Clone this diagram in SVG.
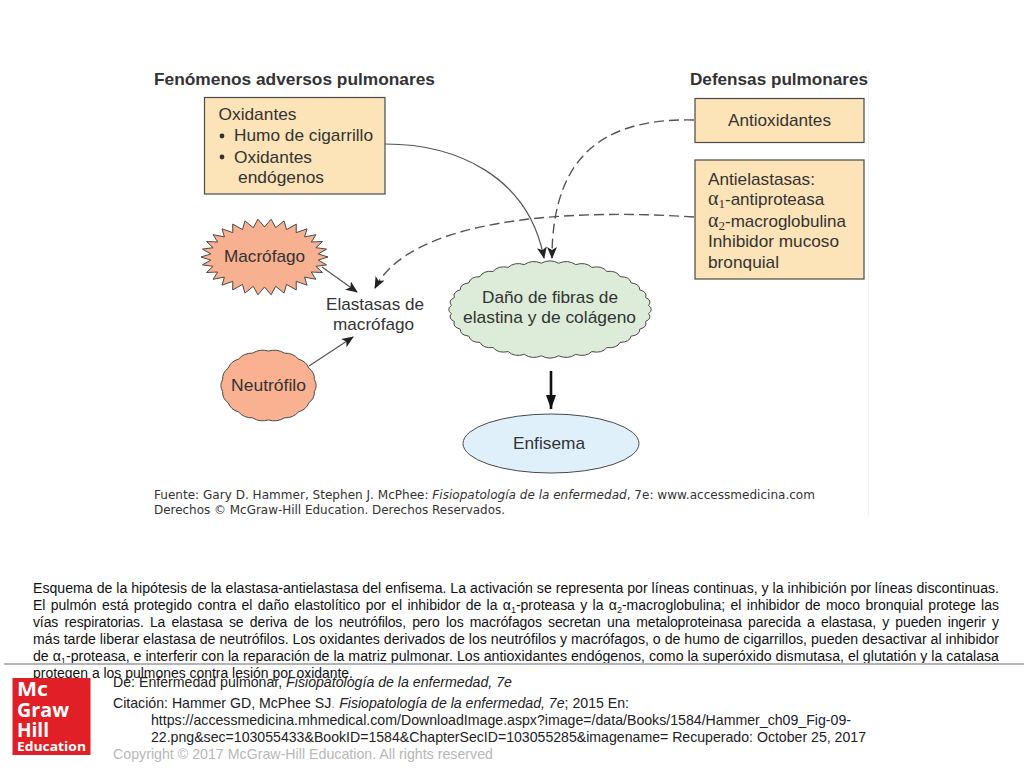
<svg xmlns="http://www.w3.org/2000/svg" width="1024" height="768" viewBox="0 0 1024 768">
<style>
text{font-family:"Liberation Sans",Arial,sans-serif}
.n{font-size:17px;fill:#333}
.h{font-size:17px;font-weight:700;fill:#333}
.g{font-family:"Liberation Serif","Times New Roman",serif;font-size:20px;fill:#333}
.sub{font-size:13px}
.ng{font-family:"Liberation Sans",sans-serif;font-size:17px}
.box{fill:#fde3b8;stroke:#4a4a4a;stroke-width:1.2}
.shape{stroke:#4a4a4a;stroke-width:1}
.c{fill:none;stroke:#555;stroke-width:1.2}
.d{fill:none;stroke:#555;stroke-width:1.4;stroke-dasharray:10 5}
.f{font-family:"DejaVu Sans",sans-serif;font-size:11.5px;fill:#333}
.p{font-size:14px;fill:#111}
.t{font-size:14.2px;fill:#222}
.s{font-size:9px}
.logo{font-family:"Open Sans",sans-serif;font-weight:700;fill:#fff}
</style>
<defs>
<marker id="ah" viewBox="0 0 12 10" refX="11" refY="5" markerWidth="12" markerHeight="10" markerUnits="userSpaceOnUse" orient="auto"><path d="M0,0L12,5L0,10L3,5Z" fill="#222"/></marker>
<marker id="big" viewBox="0 0 14 10" refX="14" refY="5" markerWidth="14" markerHeight="10" markerUnits="userSpaceOnUse" orient="auto"><path d="M0,0L14,5L0,10Z" fill="#111"/></marker>
</defs>
<rect width="1024" height="768" fill="#fff"/>
<line x1="868.5" y1="70" x2="868.5" y2="516" stroke="#f2f2f2"/>
<text class="h" x="154" y="85" textLength="281" lengthAdjust="spacingAndGlyphs">Fenómenos adversos pulmonares</text>
<text class="h" x="690" y="85" textLength="178" lengthAdjust="spacingAndGlyphs">Defensas pulmonares</text>
<g id="connectors">
<path class="c" d="M385,144C455,144 528,175 544,258" marker-end="url(#ah)"/>
<path class="d" d="M694,120C610,118 552,150 552,258" marker-end="url(#ah)"/>
<path class="d" d="M694,217C560,208 410,220 375,288" marker-end="url(#ah)"/>
<path class="c" d="M322,267L357,292" marker-end="url(#ah)"/>
<path class="c" d="M309,366L353,337" marker-end="url(#ah)"/>
<path fill="none" stroke="#111" stroke-width="2.6" d="M551,371L551,409" marker-end="url(#big)"/>
</g>
<g id="oxidantes">
<rect class="box" x="204.5" y="97.5" width="180.5" height="96.5"/>
<text class="n" x="218.5" y="120" textLength="78" lengthAdjust="spacingAndGlyphs">Oxidantes</text>
<circle cx="222" cy="136" r="2.4" fill="#333"/>
<text class="n" x="234" y="141" textLength="139" lengthAdjust="spacingAndGlyphs">Humo de cigarrillo</text>
<circle cx="222" cy="157" r="2.4" fill="#333"/>
<text class="n" x="234" y="163" textLength="78" lengthAdjust="spacingAndGlyphs">Oxidantes</text>
<text class="n" x="238" y="183" textLength="86" lengthAdjust="spacingAndGlyphs">endógenos</text>
</g>
<g id="antioxidantes">
<rect class="box" x="695" y="98.5" width="169" height="44"/>
<text class="n" x="728" y="125.5" textLength="103" lengthAdjust="spacingAndGlyphs">Antioxidantes</text>
</g>
<g id="antielastasas">
<rect class="box" x="695" y="160" width="169" height="119"/>
<text class="n" x="708" y="185" textLength="107" lengthAdjust="spacingAndGlyphs">Antielastasas:</text>
<text class="g" x="708" y="205">α<tspan class="sub" dy="3">1</tspan><tspan class="ng" dy="-3">-antiproteasa</tspan></text>
<text class="g" x="708" y="226.5">α<tspan class="sub" dy="3">2</tspan><tspan class="ng" dy="-3">-macroglobulina</tspan></text>
<text class="n" x="708" y="247" textLength="131" lengthAdjust="spacingAndGlyphs">Inhibidor mucoso</text>
<text class="n" x="708" y="267.5" textLength="71" lengthAdjust="spacingAndGlyphs">bronquial</text>
</g>
<g id="macrofago">
<polygon class="shape" fill="#f7b090" transform="translate(264.5,257)" points="63.5,0 53.7,3.1 62.1,7.9 51.4,9.3 58,15.5 46.8,15 51.4,22.3 40.1,20.1 42.5,28.2 31.7,24.3 31.8,32.9 22,27.4 19.6,36.1 11.2,29.3 6.6,37.8 0,30 -6.6,37.8 -11.2,29.3 -19.6,36.1 -22,27.4 -31.8,32.9 -31.7,24.3 -42.5,28.2 -40.1,20.1 -51.4,22.3 -46.8,15 -58,15.5 -51.4,9.3 -62.1,7.9 -53.7,3.1 -63.5,0 -53.7,-3.1 -62.1,-7.9 -51.4,-9.3 -58,-15.5 -46.8,-15 -51.4,-22.3 -40.1,-20.1 -42.5,-28.2 -31.7,-24.3 -31.8,-32.9 -22,-27.4 -19.6,-36.1 -11.2,-29.3 -6.6,-37.8 0,-30 6.6,-37.8 11.2,-29.3 19.6,-36.1 22,-27.4 31.8,-32.9 31.7,-24.3 42.5,-28.2 40.1,-20.1 51.4,-22.3 46.8,-15 58,-15.5 51.4,-9.3 62.1,-7.9 53.7,-3.1"/>
<text class="n" x="224" y="262" textLength="81" lengthAdjust="spacingAndGlyphs">Macrófago</text>
</g>
<g id="elastasas">
<text class="n" x="326" y="309.5" textLength="98" lengthAdjust="spacingAndGlyphs">Elastasas de</text>
<text class="n" x="333" y="330" textLength="81" lengthAdjust="spacingAndGlyphs">macrófago</text>
</g>
<g id="neutrofilo">
<path class="shape" fill="#f9b192" transform="translate(268.5,385.5)" d="M45.8,6Q46.5,12.8 40.3,17.3Q37.9,24.1 29.9,26.4Q24.8,32.5 15.9,32.4Q8.6,36.9 0,34.5Q-8.6,36.9 -15.9,32.4Q-24.8,32.5 -29.9,26.4Q-37.9,24.1 -40.3,17.3Q-46.5,12.8 -45.8,6Q-49.5,0 -45.8,-6Q-46.5,-12.8 -40.3,-17.3Q-37.9,-24.1 -29.9,-26.4Q-24.8,-32.5 -15.9,-32.4Q-8.6,-36.9 0,-34.5Q8.6,-36.9 15.9,-32.4Q24.8,-32.5 29.9,-26.4Q37.9,-24.1 40.3,-17.3Q46.5,-12.8 45.8,-6Q49.5,0 45.8,6Z"/>
<text class="n" x="231" y="391" textLength="75" lengthAdjust="spacingAndGlyphs">Neutrófilo</text>
</g>
<g id="dano">
<path class="shape" fill="#dcecd8" transform="translate(550,309.5)" d="M98.6,4.1Q102.4,8.9 95.6,12Q97.7,17.4 89.7,19.7Q90.1,25.5 81.1,26.7Q79.7,32.8 70,32.9Q66.9,39.1 56.8,38.1Q52,44.2 41.8,42.1Q35.6,47.9 25.6,44.9Q18.1,50.2 8.6,46.3Q0,51 -8.6,46.3Q-18.1,50.2 -25.6,44.9Q-35.6,47.9 -41.8,42.1Q-52,44.2 -56.8,38.1Q-66.9,39.1 -70,32.9Q-79.7,32.8 -81.1,26.7Q-90.1,25.5 -89.7,19.7Q-97.7,17.4 -95.6,12Q-102.4,8.9 -98.6,4.1Q-104,0 -98.6,-4.1Q-102.4,-8.9 -95.6,-12Q-97.7,-17.4 -89.7,-19.7Q-90.1,-25.5 -81.1,-26.7Q-79.7,-32.8 -70,-32.9Q-66.9,-39.1 -56.8,-38.1Q-52,-44.2 -41.8,-42.1Q-35.6,-47.9 -25.6,-44.9Q-18.1,-50.2 -8.6,-46.3Q0,-51 8.6,-46.3Q18.1,-50.2 25.6,-44.9Q35.6,-47.9 41.8,-42.1Q52,-44.2 56.8,-38.1Q66.9,-39.1 70,-32.9Q79.7,-32.8 81.1,-26.7Q90.1,-25.5 89.7,-19.7Q97.7,-17.4 95.6,-12Q102.4,-8.9 98.6,-4.1Q104,0 98.6,4.1Z"/>
<text class="n" x="482" y="303" textLength="136" lengthAdjust="spacingAndGlyphs">Daño de fibras de</text>
<text class="n" x="463" y="323" textLength="173" lengthAdjust="spacingAndGlyphs">elastina y de colágeno</text>
</g>
<g id="enfisema">
<ellipse class="shape" fill="#dff0fb" cx="551" cy="443.5" rx="88" ry="29.5"/>
<text class="n" x="513" y="449" textLength="72" lengthAdjust="spacingAndGlyphs">Enfisema</text>
</g>
<text class="f" x="154" y="499" textLength="661" lengthAdjust="spacingAndGlyphs">Fuente: Gary D. Hammer, Stephen J. McPhee: <tspan font-style="italic">Fisiopatología de la enfermedad</tspan>, 7e: www.accessmedicina.com</text>
<text class="f" x="154" y="514" textLength="351" lengthAdjust="spacingAndGlyphs">Derechos © McGraw-Hill Education. Derechos Reservados.</text>
<text class="p" x="33" y="592.5" textLength="966" lengthAdjust="spacingAndGlyphs">Esquema de la hipótesis de la elastasa-antielastasa del enfisema. La activación se representa por líneas continuas, y la inhibición por líneas discontinuas.</text>
<text class="p" x="33" y="609.5" textLength="966" word-spacing="1.5">El pulmón está protegido contra el daño elastolítico por el inhibidor de la α<tspan class="s" dy="3">1</tspan><tspan dy="-3">-proteasa y la α</tspan><tspan class="s" dy="3">2</tspan><tspan dy="-3">-macroglobulina; el inhibidor de moco bronquial protege las</tspan></text>
<text class="p" x="33" y="626.5" textLength="966" word-spacing="2.5">vías respiratorias. La elastasa se deriva de los neutrófilos, pero los macrófagos secretan una metaloproteinasa parecida a elastasa, y pueden ingerir y</text>
<text class="p" x="33" y="643.5" textLength="966" lengthAdjust="spacingAndGlyphs">más tarde liberar elastasa de neutrófilos. Los oxidantes derivados de los neutrófilos y macrófagos, o de humo de cigarrillos, pueden desactivar al inhibidor</text>
<text class="p" x="33" y="660.5" textLength="966" lengthAdjust="spacingAndGlyphs">de α<tspan class="s" dy="3">1</tspan><tspan dy="-3">-proteasa, e interferir con la reparación de la matriz pulmonar. Los antioxidantes endógenos, como la superóxido dismutasa, el glutatión y la catalasa</tspan></text>
<text class="p" x="33" y="677.5" textLength="320" lengthAdjust="spacingAndGlyphs">protegen a los pulmones contra lesión por oxidante.</text>
<rect x="4" y="663" width="1020" height="2" fill="#b5b5b5"/>
<g id="logo">
<rect x="12.5" y="678" width="78" height="77" fill="#e01f26"/>
<text class="logo" x="17" y="696" font-size="20" textLength="31" lengthAdjust="spacingAndGlyphs">Mc</text>
<text class="logo" x="17" y="716.5" font-size="20" textLength="52" lengthAdjust="spacingAndGlyphs">Graw</text>
<text class="logo" x="17" y="736.5" font-size="20" textLength="32" lengthAdjust="spacingAndGlyphs">Hill</text>
<text class="logo" x="17" y="750.5" font-size="13" textLength="69" lengthAdjust="spacingAndGlyphs">Education</text>
</g>
<text class="t" x="113" y="687" textLength="399" lengthAdjust="spacingAndGlyphs">De: Enfermedad pulmonar, <tspan font-style="italic">Fisiopatología de la enfermedad, 7e</tspan></text>
<text class="t" x="113" y="708" textLength="516" lengthAdjust="spacingAndGlyphs">Citación: Hammer GD, McPhee SJ<tspan fill="#aaa">.</tspan> <tspan font-style="italic">Fisiopatología de la enfermedad, 7e</tspan>; 2015 En:</text>
<text class="t" x="151" y="725" textLength="700" lengthAdjust="spacingAndGlyphs">https://accessmedicina.mhmedical.com/DownloadImage.aspx?image=/data/Books/1584/Hammer_ch09_Fig-09-</text>
<text class="t" x="151" y="742" textLength="715" lengthAdjust="spacingAndGlyphs">22.png&amp;sec=103055433&amp;BookID=1584&amp;ChapterSecID=103055285&amp;imagename= Recuperado: October 25, 2017</text>
<text class="t" x="113" y="759" textLength="380" lengthAdjust="spacingAndGlyphs" style="fill:#b8b8b8">Copyright © 2017 McGraw-Hill Education. All rights reserved</text>
</svg>
